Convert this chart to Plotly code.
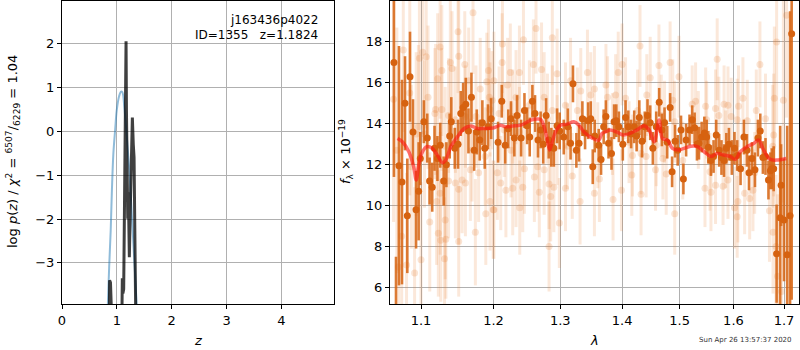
import plotly.graph_objects as go

# ---------------- left panel: redshift PDF ----------------
pz_prior_z = [0.80, 0.839, 0.86, 0.888, 0.91, 0.937, 0.97, 0.998, 1.04, 1.077, 1.10,
              1.137, 1.18, 1.228, 1.26, 1.302, 1.33, 1.363, 1.40]
pz_prior_v = [-5.2, -3.86, -3.1, -2.26, -1.35, -0.5, 0.05, 0.48, 0.80, 0.91, 0.90,
              0.55, -0.1, -0.89, -1.6, -2.56, -3.2, -4.0, -5.2]

pz_z = [0.855, 0.862, 0.868, 0.884, 0.895, 0.905, 0.912, 0.95, 1.05, 1.09, 1.10, 1.11,
        1.125, 1.145, 1.16, 1.168, 1.175, 1.185, 1.199, 1.21, 1.228, 1.25, 1.27, 1.283,
        1.30, 1.314, 1.33, 1.345, 1.36]
pz_v = [-6.0, -4.5, -3.4, -3.45, -3.75, -3.7, -4.5, -8.0, -8.0, -4.5, -3.35, -3.7,
        -3.6, -1.0, 1.5, 2.06, 0.5, -1.0, -1.99, -1.39, -2.87, -1.5, -0.2, 0.32,
        -0.3, -0.59, -2.5, -4.5, -6.0]

# ---------------- right panel: spectrum ----------------
dark_lam = [1.0649, 1.0675, 1.0713, 1.0752, 1.0791, 1.0821, 1.0856, 1.0895, 1.0935, 1.0969,
            1.0991, 1.1038, 1.1083, 1.1114, 1.1149, 1.1180, 1.1219, 1.1257, 1.1303, 1.1340,
            1.1385, 1.1407, 1.1455, 1.1500, 1.1537, 1.1570, 1.1607, 1.1644, 1.1686, 1.1724,
            1.1761, 1.1803, 1.1840, 1.1874, 1.1920, 1.1966,
            1.2065, 1.2119, 1.2169, 1.2214, 1.2254, 1.2303, 1.2343, 1.2403, 1.2453, 1.2493,
            1.2532, 1.2572, 1.2612, 1.2657, 1.2697, 1.2736, 1.2781, 1.2821, 1.2861, 1.2900,
            1.2950, 1.2990, 1.3054, 1.3118, 1.3161, 1.3199, 1.3253, 1.3296, 1.3349, 1.3392,
            1.3441, 1.3484, 1.3516, 1.3548,
            1.3613, 1.3651, 1.3694, 1.3731, 1.3774, 1.3823, 1.3866, 1.3903, 1.3946,
            1.4012, 1.4058, 1.4105, 1.4152, 1.4205, 1.4246, 1.4292, 1.4339, 1.4386, 1.4433,
            1.4480, 1.4526, 1.4585, 1.4637, 1.4684, 1.4731, 1.4778, 1.4830, 1.4865, 1.4918,
            1.4965, 1.5025, 1.5068, 1.5117, 1.5179, 1.5228, 1.5272, 1.5315,
            1.5352, 1.5401, 1.5451, 1.5494, 1.5525, 1.5574, 1.5623, 1.5673, 1.5728, 1.5772,
            1.5821, 1.5864, 1.5914, 1.5969, 1.6020, 1.6072, 1.6137, 1.6203, 1.6261, 1.6301,
            1.6359, 1.6418, 1.6477, 1.6523, 1.6575, 1.6627, 1.6686, 1.6725, 1.6752, 1.6791,
            1.6850, 1.6922, 1.6941, 1.7000, 1.7065, 1.7124, 1.7157]
dark_flux = [17.0, 4.8, 11.95, 11.15, 15.0, 9.5, 16.3, 13.6, 9.8, 10.7,
             12.3, 14.1, 13.3, 11.2, 10.9, 12.8, 12.3, 12.95, 11.2, 12.0,
             13.4, 14.1, 12.8, 13.0, 14.5, 14.8, 14.95, 13.65, 15.3, 12.7,
             13.6, 13.2, 14.05, 12.8, 13.85, 14.25,
             13.1, 15.1, 12.95, 13.75, 14.25, 13.3, 14.4, 13.3, 14.65, 13.9,
             13.35, 15.1, 14.5, 13.2, 13.7, 13.0, 14.4, 13.2, 12.85, 12.8,
             13.9, 13.65, 13.35, 13.85, 13.05, 15.95, 12.7, 13.05, 14.25, 13.55,
             14.15, 14.25, 11.9, 13.4,
             12.95, 12.25, 13.85, 14.35, 13.05, 12.55, 14.1, 14.15, 13.85,
             13.0, 14.3, 13.85, 13.5, 13.85, 13.4, 14.3, 13.15, 13.85, 14.4,
             14.05, 12.8, 13.85, 15.05, 13.7, 14.05, 13.1, 14.8, 11.65, 13.15,
             12.7, 13.7, 11.3, 13.2, 13.7, 14.2, 13.8, 13.0,
             13.05, 13.35, 13.55, 13.35, 12.85, 12.2, 12.4, 13.45, 12.7, 12.35,
             12.2, 12.8, 13.0, 12.35, 12.8, 12.45, 11.8, 13.35, 12.7, 11.6,
             12.3, 11.75, 13.3, 13.65, 12.35, 12.4, 11.25, 11.7, 11.8, 11.8,
             7.65, 9.4, 11.0, 9.3, 7.6, 9.5, 18.4]
dark_err = [5.6, 2.7, 5.85, 5.0, 2.3, 2.8, 2.2, 1.6, 1.9, 2.4,
            1.3, 1.05, 1.2, 1.15, 1.2, 1.1, 1.1, 1.1, 1.2, 1.1,
            1.1, 1.2, 1.0, 1.2, 1.1, 1.2, 1.3, 1.1, 1.2, 1.0,
            1.1, 1.0, 1.1, 1.0, 1.1, 1.0,
            1.0, 0.8, 0.9, 0.95, 0.85, 0.9, 1.0, 0.9, 0.85, 0.9,
            0.95, 0.8, 0.9, 0.85, 0.9, 0.95, 0.85, 0.9, 0.95, 0.9,
            0.85, 0.9, 0.85, 0.9, 0.8, 0.9, 0.85, 0.9, 0.85, 0.8,
            0.9, 0.85, 0.85, 0.8,
            0.8, 0.75, 0.85, 0.8, 0.75, 0.8, 0.85, 0.8, 0.75,
            0.8, 0.85, 0.8, 0.7, 0.8, 0.75, 0.85, 0.8, 0.75, 0.8,
            0.85, 0.8, 0.75, 0.7, 0.8, 0.75, 0.8, 0.7, 0.75, 0.8,
            0.75, 0.7, 0.75, 0.8, 0.75, 0.7, 0.75, 0.8,
            0.8, 0.75, 0.8, 0.85, 0.8, 0.75, 0.8, 0.75, 0.8, 0.85,
            0.8, 0.75, 0.8, 0.85, 0.8, 0.75, 0.8, 0.85, 0.8, 0.85,
            0.8, 0.85, 0.9, 0.85, 0.8, 0.9, 0.95, 0.9, 1.0, 1.1,
            2.4, 4.5, 2.0, 3.0, 6.3, 10.0, 13.0]

faded_lam = [1.1708, 1.1500, 1.1255, 1.1023, 1.1069, 1.0979, 1.1509, 1.1394, 1.1278, 1.1417,
             1.1593, 1.1926, 1.1222, 1.1648, 1.1903, 1.1810, 1.0853, 1.1093, 1.1940, 1.1194,
             1.1278, 1.1370, 1.1949, 1.1750, 1.1463, 1.1602, 1.1185, 1.1046, 1.0966, 1.1324,
             1.1694, 1.1880, 1.1671, 1.1787, 1.1556, 1.1463, 1.1602, 1.1370, 1.1509, 1.1255,
             1.1208, 1.1949, 1.1995, 1.1889, 1.1741, 1.1116, 1.1324, 1.1231, 1.1264, 1.1333,
             1.1509, 1.0748, 1.0706, 1.0811, 1.1315, 1.1000, 1.0916,
             1.0644, 1.0686, 1.0769, 1.0874, 1.0937,
             1.2129, 1.2627, 1.2876, 1.2438, 1.2124, 1.2587, 1.2711, 1.2244, 1.2378, 1.2950,
             1.3323, 1.3430, 1.2005, 1.2204, 1.3161, 1.2751, 1.2328, 1.1980, 1.2527, 1.3081,
             1.3484, 1.2876, 1.2080, 1.2279, 1.2801, 1.3269, 1.2154, 1.2378, 1.2950, 1.3108,
             1.2254, 1.2453, 1.2652, 1.2751, 1.2055, 1.3188, 1.2602, 1.2328, 1.2104, 1.2826,
             1.2279, 1.2428, 1.2900, 1.2677, 1.3081, 1.2851, 1.3312, 1.2005, 1.2383, 1.2985,
             1.2826, 1.2179,
             1.4304, 1.4000, 1.4830, 1.3935, 1.4632, 1.4988, 1.4480, 1.3731, 1.3543, 1.5228,
             1.4058, 1.4421, 1.4877, 1.3758, 1.3892, 1.4263, 1.4673, 1.4731, 1.4912, 1.3839,
             1.4117, 1.4585, 1.3597, 1.4175, 1.4322, 1.4409, 1.4702, 1.5056, 1.4760, 1.4164,
             1.4573, 1.3624, 1.3543, 1.3989, 1.4322, 1.3849, 1.4912,
             1.5691, 1.6516, 1.7052, 1.6850, 1.6804, 1.6183, 1.6987, 1.5290, 1.5475, 1.5821,
             1.5895, 1.6098, 1.5660, 1.6444, 1.5722, 1.5957, 1.6072, 1.6268, 1.6627, 1.6791,
             1.5494, 1.5340, 1.6771, 1.5852, 1.5556, 1.6412, 1.5463, 1.5574, 1.5660, 1.5802,
             1.5895, 1.6216, 1.6085, 1.6314, 1.6379, 1.6020, 1.6706, 1.6072, 1.6778, 1.6837,
             1.6869, 1.6948]
faded_flux = [19.43, 18.5, 17.75, 17.5, 17.27, 17.2, 17.3, 17.0, 16.6, 16.7,
              16.9, 16.6, 16.2, 16.1, 16.05, 15.7, 15.5, 15.3, 15.3, 14.7,
              14.7, 14.4, 14.7, 14.35, 14.2, 14.35, 14.5, 13.5, 13.85, 12.9,
              12.7, 12.4, 11.75, 11.6, 11.25, 11.1, 11.1, 11.2, 10.8, 10.6,
              10.2, 10.2, 9.8, 9.6, 8.7, 9.2, 9.3, 8.65, 8.3, 8.35,
              8.25, 8.5, 7.0, 7.1, 7.4, 7.35, 6.7,
              15.2, 12.7, 17.6, 11.9, 13.5,
              17.9, 18.65, 18.2, 18.1, 17.0, 16.9, 16.65, 16.5, 16.5, 16.45,
              15.6, 16.5, 16.1, 15.9, 16.1, 15.3, 15.3, 15.15, 14.9, 14.9,
              15.4, 14.65, 14.5, 14.35, 14.25, 14.65, 13.7, 13.6, 13.2, 12.9,
              12.7, 11.8, 11.9, 11.75, 11.6, 11.45, 11.4, 11.25, 11.1, 11.05,
              10.85, 10.9, 10.9, 10.65, 10.85, 10.45, 10.2, 9.8, 9.9, 9.15,
              8.0, 10.75,
              17.8, 16.9, 17.0, 16.5, 16.85, 16.3, 16.25, 15.9, 15.7, 14.95,
              15.25, 15.4, 15.15, 15.3, 15.4, 14.65, 14.4, 14.1, 14.1, 13.5,
              13.1, 12.95, 12.95, 12.45, 12.55, 12.4, 12.3, 12.2, 11.55, 11.5,
              11.75, 11.3, 10.6, 10.75, 10.55, 10.3, 9.6,
              17.15, 16.9, 19.3, 18.0, 15.25, 15.25, 15.15, 15.1, 14.85, 14.95,
              14.9, 14.85, 14.75, 14.65, 14.4, 14.35, 14.2, 14.15, 14.25, 13.45,
              14.2, 13.7, 12.9, 12.75, 11.65, 11.6, 10.85, 10.65, 11.0, 10.95,
              11.25, 10.6, 10.2, 10.35, 10.75, 9.9, 9.75, 9.45, 8.7, 8.0,
              6.55, 5.8]
faded_err = [3.0, 3.0, 3.5, 4.0, 3.5, 4.5, 2.8, 3.0, 3.2, 2.8,
             2.6, 2.5, 3.2, 2.6, 2.4, 2.5, 5.0, 3.5, 2.4, 3.2,
             3.0, 2.8, 2.3, 2.5, 2.6, 2.5, 3.2, 3.6, 4.0, 2.9,
             2.5, 2.4, 2.5, 2.4, 2.6, 2.7, 2.6, 2.8, 2.7, 3.0,
             3.1, 2.4, 2.4, 2.5, 2.6, 3.4, 2.9, 3.1, 3.0, 2.9,
             2.7, 4.5, 5.0, 4.5, 3.0, 3.8, 4.2,
             6.0, 6.0, 4.0, 4.0, 4.0,
             2.4, 2.2, 2.3, 2.2, 2.4, 2.2, 2.3, 2.4, 2.3, 2.2,
             2.1, 2.1, 2.4, 2.3, 2.1, 2.2, 2.3, 2.4, 2.2, 2.1,
             2.1, 2.2, 2.3, 2.3, 2.2, 2.1, 2.3, 2.2, 2.2, 2.1,
             2.3, 2.2, 2.2, 2.2, 2.3, 2.1, 2.2, 2.3, 2.3, 2.2,
             2.3, 2.2, 2.2, 2.2, 2.1, 2.2, 2.1, 2.4, 2.3, 2.2,
             2.2, 2.3,
             2.0, 2.0, 2.0, 2.0, 2.0, 2.0, 2.0, 2.0, 2.1, 1.9,
             2.0, 2.0, 2.0, 2.0, 2.0, 2.0, 2.0, 2.0, 2.0, 2.0,
             2.0, 2.0, 2.1, 2.0, 2.0, 2.0, 2.0, 1.9, 2.0, 2.0,
             2.0, 2.1, 2.1, 2.0, 2.0, 2.0, 2.0,
             2.0, 2.1, 5.0, 4.0, 3.5, 2.0, 5.0, 1.9, 1.9, 1.9,
             1.9, 2.0, 1.9, 2.0, 1.9, 1.9, 2.0, 2.0, 2.2, 3.0,
             1.9, 1.9, 3.0, 1.9, 1.9, 2.0, 1.9, 1.9, 1.9, 1.9,
             1.9, 2.0, 2.0, 2.0, 2.0, 2.0, 2.5, 2.0, 3.0, 3.5,
             4.0, 5.0]

model_lam = [1.0694, 1.0757, 1.0841, 1.0904, 1.0937, 1.0966, 1.1009, 1.1078, 1.1147, 1.1217,
             1.1286, 1.1332, 1.1401, 1.1493, 1.1585, 1.1677, 1.1770, 1.1862, 1.2000, 1.2100,
             1.2175, 1.2275, 1.2400, 1.2550, 1.2650, 1.2700, 1.2750, 1.2800, 1.2835, 1.2875,
             1.2925, 1.3000, 1.3107, 1.3214, 1.3294, 1.3374, 1.3508, 1.3615, 1.3668, 1.3722,
             1.3802, 1.3909, 1.4018, 1.4135, 1.4253, 1.4371, 1.4459, 1.4547, 1.4635, 1.4694,
             1.4782, 1.4871, 1.4988, 1.5080, 1.5202, 1.5325, 1.5448, 1.5571, 1.5693, 1.5816,
             1.5939, 1.6033, 1.6131, 1.6261, 1.6392, 1.6490, 1.6588, 1.6719, 1.6882, 1.7046]
model_flux = [13.28, 13.12, 12.63, 11.9, 11.25, 11.9, 12.55, 12.88, 12.8, 12.47,
              12.1, 12.23, 12.88, 13.37, 13.77, 13.89, 13.77, 13.77, 13.8, 13.93,
              13.85, 13.89, 13.93, 14.18, 14.23, 14.2, 13.85, 13.2, 12.72, 13.12,
              13.6, 13.93, 13.98, 14.1, 13.93, 13.6, 13.3, 13.2, 13.53, 13.6,
              13.7, 13.6, 13.45, 13.53, 13.7, 13.9, 13.7, 13.12, 14.18, 13.28,
              13.2, 12.8, 12.72, 12.8, 12.9, 12.88, 12.63, 12.4, 12.55, 12.47,
              12.4, 12.26, 12.63, 12.88, 13.04, 13.2, 12.72, 12.26, 12.23, 12.3]

x_ticks_right = [1.1, 1.2, 1.3, 1.4, 1.5, 1.6, 1.7]
y_ticks_right = [6, 8, 10, 12, 14, 16, 18]
x_ticks_left = [0, 1, 2, 3, 4]
y_ticks_left = [-3, -2, -1, 0, 1, 2]

W, H = 800, 350
ORANGE = "rgb(214,98,16)"

fig = go.Figure()

# left panel
fig.add_trace(go.Scatter(x=pz_prior_z, y=pz_prior_v, mode="lines", line_shape="spline",
                         line=dict(color="rgba(31,119,180,0.5)", width=2),
                         xaxis="x", yaxis="y", showlegend=False, hoverinfo="skip"))
fig.add_trace(go.Scatter(x=pz_z, y=pz_v, mode="lines",
                         line=dict(color="rgba(0,0,0,0.75)", width=3),
                         xaxis="x", yaxis="y", showlegend=False, hoverinfo="skip"))

# right panel
fig.add_trace(go.Scatter(x=faded_lam, y=faded_flux, mode="markers",
                         marker=dict(color="rgba(230,120,40,0.2)", size=7, line=dict(width=0)),
                         error_y=dict(type="data", array=faded_err, visible=True,
                                      color="rgba(235,130,50,0.18)", thickness=3, width=0),
                         xaxis="x2", yaxis="y2", showlegend=False, hoverinfo="skip"))
fig.add_trace(go.Scatter(x=dark_lam, y=dark_flux, mode="markers",
                         marker=dict(color=ORANGE, size=7, line=dict(width=0)),
                         error_y=dict(type="data", array=dark_err, visible=True,
                                      color="rgba(214,100,18,0.85)", thickness=2.6, width=0),
                         xaxis="x2", yaxis="y2", showlegend=False, hoverinfo="skip"))
fig.add_trace(go.Scatter(x=model_lam, y=model_flux, mode="lines", line_shape="spline",
                         line=dict(color="rgba(255,20,20,0.6)", width=3.5),
                         xaxis="x2", yaxis="y2", showlegend=False, hoverinfo="skip"))

axis_common = dict(showline=True, mirror=True, linecolor="black", linewidth=1.2,
                   ticks="outside", ticklen=4, tickcolor="black", tickwidth=1,
                   showgrid=True, gridcolor="#b0b0b0", gridwidth=1, zeroline=False,
                   automargin=False,
                   tickfont=dict(family="DejaVu Sans", size=13, color="black"))

def fmt(v):
    return str(v).replace("-", "\u2212")

y0 = 1 - 304 / H
y1 = 1 - 1 / H
fig.update_layout(
    width=W, height=H, margin=dict(l=0, r=0, t=0, b=0, pad=0),
    paper_bgcolor="white", plot_bgcolor="white",
    xaxis=dict(domain=[62 / W, 334 / W], range=[0, 4.96], tickvals=x_ticks_left,
               ticktext=[fmt(v) for v in x_ticks_left], anchor="y", **axis_common),
    yaxis=dict(domain=[y0, y1], range=[-3.94, 2.98], tickvals=y_ticks_left,
               ticktext=[fmt(v) for v in y_ticks_left], anchor="x", **axis_common),
    xaxis2=dict(domain=[390 / W, 799 / W], type="log", range=[0.02525, 0.23826],
                tickvals=x_ticks_right, ticktext=[str(v) for v in x_ticks_right],
                anchor="y2", **axis_common),
    yaxis2=dict(domain=[y0, y1], range=[5.19, 20.0], tickvals=y_ticks_right,
                ticktext=[str(v) for v in y_ticks_right], anchor="x2", **axis_common),
)

def px(x):
    return x / W

def py(y):
    return 1 - y / H

ann_font = dict(family="DejaVu Sans", size=13, color="black")
annotations = [
    dict(x=px(320), y=py(20), text="j163436p4022", xanchor="right", yanchor="middle",
         font=dict(family="DejaVu Sans", size=12, color="black")),
    dict(x=px(320), y=py(35), text="ID=1355   z=1.1824", xanchor="right", yanchor="middle",
         font=dict(family="DejaVu Sans", size=12, color="black")),
    dict(x=px(198), y=py(340), text="<i>z</i>", xanchor="center", yanchor="middle", font=ann_font),
    dict(x=px(594), y=py(340), text="<i>λ</i>", xanchor="center", yanchor="middle", font=ann_font),
    dict(x=px(13), y=py(152),
         text="log <i>p</i>(<i>z</i>) / <i>χ</i><sup>2</sup> = <sup>6507</sup>/<sub>6229</sub> = 1.04",
         textangle=-90, xanchor="center", yanchor="middle", font=ann_font),
    dict(x=px(346), y=py(152), text="<i>f</i><sub>λ</sub> × 10<sup>−19</sup>",
         textangle=-90, xanchor="center", yanchor="middle", font=ann_font),
    dict(x=px(697), y=py(340), text="Sun Apr 26 13:57:37 2020", xanchor="left", yanchor="middle",
         font=dict(family="DejaVu Sans", size=7, color="#333333")),
]
for a in annotations:
    a.update(xref="paper", yref="paper", showarrow=False)
fig.update_layout(annotations=annotations)

fig.write_html("out.html", config={"displayModeBar": False},
               post_script="document.body.style.margin='0';document.body.style.padding='0';")
